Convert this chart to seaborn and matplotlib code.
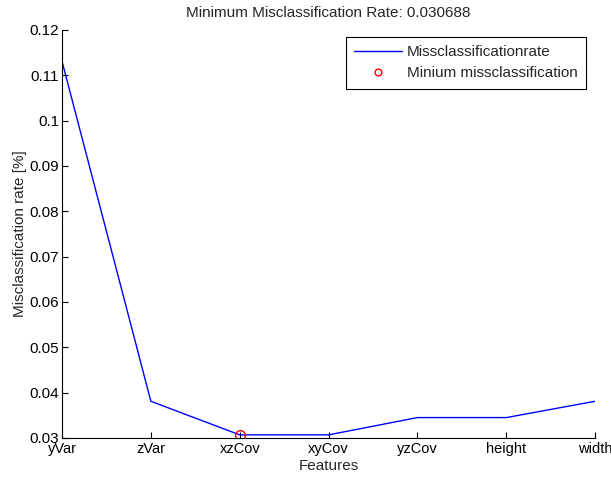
import pandas as pd
import matplotlib.pyplot as plt
import seaborn as sns

features = ["yVar", "zVar", "xzCov", "xyCov", "yzCov", "height", "width"]
rates = [0.1131, 0.0381, 0.030688, 0.030688, 0.0345, 0.0345, 0.0381]
min_idx = 2

sns.set_style("ticks")
plt.rcParams['font.family'] = ['Liberation Sans', 'DejaVu Sans']

df = pd.DataFrame({"pos": range(len(features)), "rate": rates})

fig = plt.figure(figsize=(6.11, 4.86), dpi=100)
ax = fig.add_axes([0.1015, 0.0988, 0.8725, 0.8395])

sns.lineplot(data=df, x="pos", y="rate", color="blue", linewidth=1,
             label="Missclassificationrate", ax=ax)
ax.plot(min_idx, rates[min_idx], "o", markerfacecolor="none",
        markeredgecolor="red", markersize=7, linestyle="none",
        label="Minium missclassification")

ax.set_xlim(0, len(features) - 1)
ax.set_ylim(0.03, 0.12)
ax.set_xticks(range(len(features)))
ax.set_xticklabels(features)
ax.set_yticks([0.03, 0.04, 0.05, 0.06, 0.07, 0.08, 0.09, 0.1, 0.11, 0.12])
ax.set_yticklabels(["0.03", "0.04", "0.05", "0.06", "0.07", "0.08", "0.09", "0.1", "0.11", "0.12"])
ax.tick_params(direction="in", length=4, labelsize=11, colors="black", pad=2)
ax.tick_params(axis="x", labelsize=10.5, pad=3)
ax.set_xlabel("Features", fontsize=11, labelpad=2)
ax.set_ylabel("Misclassification rate [%]", fontsize=11, labelpad=2)
ax.set_title("Minimum Misclassification Rate: 0.030688", fontsize=11, pad=9)
sns.despine(ax=ax)
for s in ["left", "bottom"]:
    ax.spines[s].set_linewidth(0.8)
    ax.spines[s].set_color("black")

leg = ax.legend(loc="upper right", bbox_to_anchor=(0.983, 0.983), fontsize=11,
                fancybox=False, framealpha=1, edgecolor="black",
                handlelength=3.1, handletextpad=0.35, borderpad=0.55,
                labelspacing=0.45, borderaxespad=0, markerscale=0.7)
leg.get_frame().set_linewidth(0.8)

plt.savefig("out.png", dpi=100)
